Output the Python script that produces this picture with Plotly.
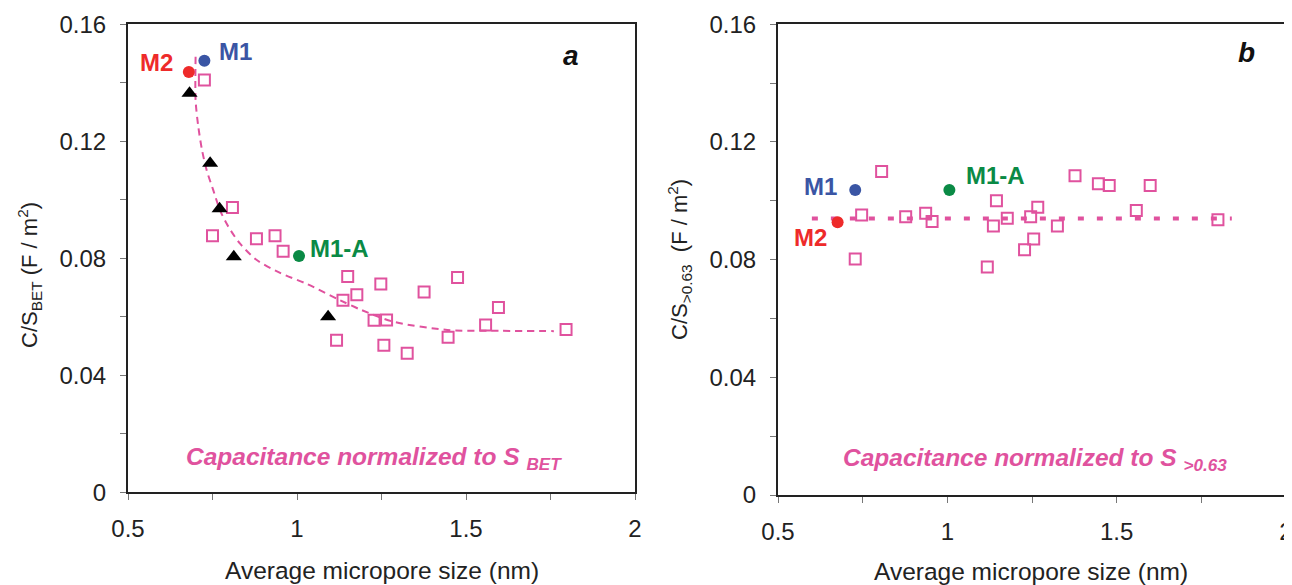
import plotly.graph_objects as go

# ---------------- data ----------------
# Panel a: C/S_BET vs average micropore size
a_sq_x = [0.726, 0.809, 0.750, 0.880, 0.935, 0.959, 1.150, 1.248, 1.376, 1.475, 1.177,
          1.136, 1.596, 1.228, 1.265, 1.117, 1.257, 1.326, 1.447, 1.558, 1.796]
a_sq_y = [0.1410, 0.0974, 0.0877, 0.0867, 0.0877, 0.0824, 0.0738, 0.0712, 0.0685, 0.0734, 0.0675,
          0.0657, 0.0632, 0.0588, 0.0589, 0.0520, 0.0503, 0.0475, 0.0530, 0.0572, 0.0557]
a_tri_x = [0.682, 0.743, 0.771, 0.813, 1.092]
a_tri_y = [0.1364, 0.1125, 0.0969, 0.0805, 0.0600]
a_m1 = (0.726, 0.1475)
a_m2 = (0.680, 0.1437)
a_m1a = (1.006, 0.0808)
a_fit_x = [0.700, 0.700, 0.708, 0.719, 0.733, 0.752, 0.772, 0.797, 0.831, 0.881, 0.950,
           1.030, 1.127, 1.191, 1.286, 1.445, 1.600, 1.760]
a_fit_y = [0.1489, 0.1340, 0.1250, 0.1170, 0.1100, 0.1034, 0.0965, 0.0908, 0.0851, 0.0794, 0.0750,
           0.0712, 0.0657, 0.0623, 0.0583, 0.0555, 0.0552, 0.0551]

# Panel b: C/S_>0.63 vs average micropore size
b_sq_x = [0.806, 0.747, 0.728, 0.877, 0.936, 0.955, 1.145, 1.136, 1.177, 1.246, 1.267,
          1.255, 1.228, 1.118, 1.325, 1.377, 1.446, 1.478, 1.599, 1.558, 1.799]
b_sq_y = [0.1100, 0.0952, 0.0802, 0.0946, 0.0958, 0.0930, 0.1000, 0.0914, 0.0941, 0.0946, 0.0978,
          0.0870, 0.0834, 0.0775, 0.0914, 0.1085, 0.1058, 0.1052, 0.1052, 0.0967, 0.0936]
b_m1 = (0.728, 0.1037)
b_m2 = (0.676, 0.0927)
b_m1a = (1.006, 0.1037)
b_fit_x = [0.600, 1.840]
b_fit_y = [0.0940, 0.0940]

x_ticks = [0.5, 1, 1.5, 2]
y_ticks = [0, 0.04, 0.08, 0.12, 0.16]

# ---------------- styles ----------------
PINK = "#E0529E"
RED = "#EE2A2A"
BLUE = "#3A55A4"
GREEN = "#0A8A45"
FONT = "Liberation Sans, Arial, sans-serif"
W, H = 1292, 585
OFF = 8  # page body margin offset


def px(v):
    return (v - OFF) / W


def py(v):
    return 1 - (v - OFF) / H


fig = go.Figure()

# panel a
fig.add_trace(go.Scatter(x=a_fit_x, y=a_fit_y, mode="lines", line=dict(color=PINK, width=2, dash="7px,5px", shape="spline", smoothing=0.8),
                         xaxis="x", yaxis="y", hoverinfo="skip"))
fig.add_trace(go.Scatter(x=a_sq_x, y=a_sq_y, mode="markers",
                         marker=dict(symbol="square-open", size=11, color=PINK, line=dict(width=2, color=PINK)),
                         xaxis="x", yaxis="y"))
fig.add_trace(go.Scatter(x=a_tri_x, y=a_tri_y, mode="markers",
                         marker=dict(symbol="triangle-up", size=14, color="black"), xaxis="x", yaxis="y"))
for (mx, my), c in [(a_m1, BLUE), (a_m2, RED), (a_m1a, GREEN)]:
    fig.add_trace(go.Scatter(x=[mx], y=[my], mode="markers", marker=dict(symbol="circle", size=12, color=c),
                             xaxis="x", yaxis="y"))

# panel b
fig.add_trace(go.Scatter(x=b_fit_x, y=b_fit_y, mode="lines", line=dict(color=PINK, width=4, dash="6px,13px"),
                         xaxis="x2", yaxis="y2", hoverinfo="skip"))
fig.add_trace(go.Scatter(x=b_sq_x, y=b_sq_y, mode="markers",
                         marker=dict(symbol="square-open", size=11, color=PINK, line=dict(width=2, color=PINK)),
                         xaxis="x2", yaxis="y2"))
for (mx, my), c in [(b_m1, BLUE), (b_m2, RED), (b_m1a, GREEN)]:
    fig.add_trace(go.Scatter(x=[mx], y=[my], mode="markers", marker=dict(symbol="circle", size=12, color=c),
                             xaxis="x2", yaxis="y2"))


def xax(domain, anchor):
    return dict(domain=domain, anchor=anchor, range=[0.5, 2], tickvals=x_ticks, ticktext=[str(v) for v in x_ticks],
                ticks="outside", ticklen=6, tickwidth=1, tickcolor="#777", automargin=False,
                minor=dict(dtick=0.25, ticks="outside", ticklen=6, tickwidth=1, tickcolor="#777"),
                showline=True, mirror=True, linecolor="#222", linewidth=2, showgrid=False, zeroline=False,
                tickfont=dict(size=24, color="#222", family=FONT), ticklabelstandoff=8)


def yax(domain, anchor):
    return dict(domain=domain, anchor=anchor, range=[0, 0.16], tickvals=y_ticks,
                ticktext=["0", "0.04", "0.08", "0.12", "0.16"],
                ticks="outside", ticklen=6, tickwidth=1, tickcolor="#777", automargin=False,
                minor=dict(dtick=0.02, ticks="outside", ticklen=6, tickwidth=1, tickcolor="#777"),
                showline=True, mirror=True, linecolor="#222", linewidth=2, showgrid=False, zeroline=False,
                tickfont=dict(size=24, color="#222", family=FONT), ticklabelstandoff=9)


ann = []
lab = dict(size=24, family=FONT)
ann += [
    dict(x=0.585, y=0.1471, xref="x", yref="y", text="<b>M2</b>", font=dict(color=RED, **lab), showarrow=False),
    dict(x=0.818, y=0.1506, xref="x", yref="y", text="<b>M1</b>", font=dict(color=BLUE, **lab), showarrow=False),
    dict(x=1.125, y=0.0832, xref="x", yref="y", text="<b>M1-A</b>", font=dict(color=GREEN, **lab), showarrow=False),
    dict(x=1.812, y=0.1495, xref="x", yref="y", text="<b><i>a</i></b>", font=dict(color="#111", size=28, family=FONT), showarrow=False),
    dict(x=0.626, y=0.1050, xref="x2", yref="y2", text="<b>M1</b>", font=dict(color=BLUE, **lab), showarrow=False),
    dict(x=1.142, y=0.1087, xref="x2", yref="y2", text="<b>M1-A</b>", font=dict(color=GREEN, **lab), showarrow=False),
    dict(x=0.597, y=0.0876, xref="x2", yref="y2", text="<b>M2</b>", font=dict(color=RED, **lab), showarrow=False),
    dict(x=1.883, y=0.1504, xref="x2", yref="y2", text="<b><i>b</i></b>", font=dict(color="#111", size=28, family=FONT), showarrow=False),
    dict(x=1.228, y=0.0117, xref="x", yref="y", text="<b><i>Capacitance normalized to S <sub>BET</sub></i></b>",
         font=dict(color=PINK, size=24.5, family=FONT), showarrow=False),
    dict(x=1.258, y=0.0119, xref="x2", yref="y2", text="<b><i>Capacitance normalized to S <sub>&gt;0.63</sub></i></b>",
         font=dict(color=PINK, size=24.5, family=FONT), showarrow=False),
    # axis titles
    dict(x=px(381.5), y=py(570), xref="paper", yref="paper", xanchor="center", yanchor="middle",
         text="Average micropore size (nm)", font=dict(color="#222", size=24.5, family=FONT), showarrow=False),
    dict(x=px(1031), y=py(571), xref="paper", yref="paper", xanchor="center", yanchor="middle",
         text="Average micropore size (nm)", font=dict(color="#222", size=24.5, family=FONT), showarrow=False),
    dict(x=px(30), y=py(275), xref="paper", yref="paper", xanchor="center", yanchor="middle",
         text="C/S<sub>BET</sub> (F / m<sup>2</sup>)",
         textangle=-90, font=dict(color="#222", size=22, family=FONT), showarrow=False),
    dict(x=px(679), y=py(260), xref="paper", yref="paper", xanchor="center", yanchor="middle",
         text="C/S<sub>&gt;0.63</sub>  (F / m<sup>2</sup>)",
         textangle=-90, font=dict(color="#222", size=22, family=FONT), showarrow=False),
]

fig.update_layout(
    width=W, height=H, margin=dict(l=0, r=0, t=0, b=0, autoexpand=False),
    paper_bgcolor="white", plot_bgcolor="white", showlegend=False,
    font=dict(family=FONT, color="#222"),
    xaxis=xax([px(128), px(635)], "y"),
    yaxis=yax([py(492.3), py(24.3)], "x"),
    xaxis2=xax([px(778), px(1286)], "y2"),
    yaxis2=yax([py(495), py(24.3)], "x2"),
    annotations=ann,
)

fig.write_html("out.html")
